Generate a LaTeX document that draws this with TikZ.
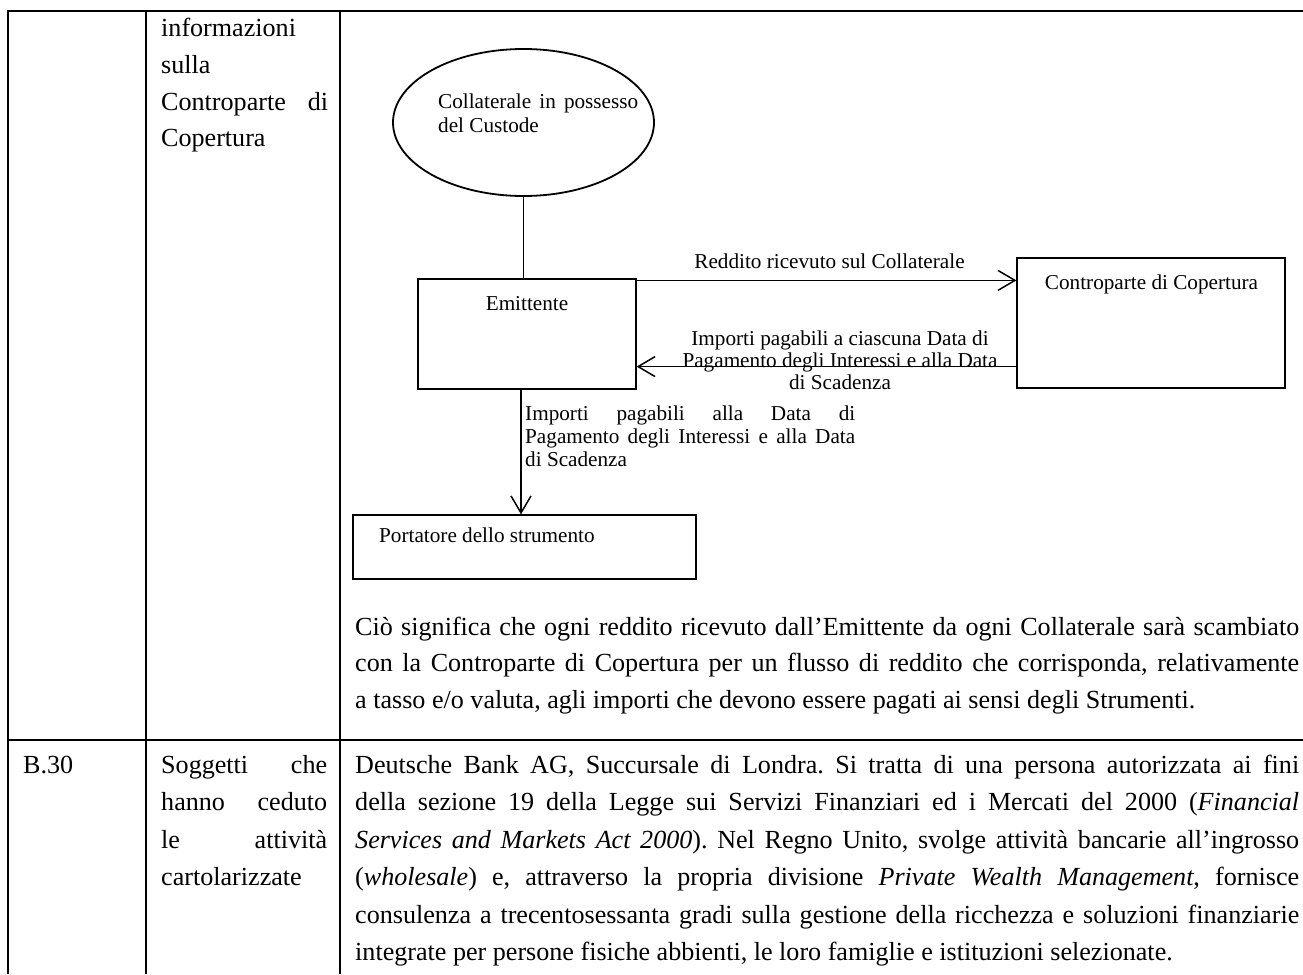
\documentclass[tikz,border=0pt]{standalone}
\usepackage{fontspec}
\setmainfont{Liberation Serif}
\usetikzlibrary{arrows.meta,shapes.geometric}
\newcommand{\jl}[2]{\makebox[#1][s]{#2}}
\frenchspacing
\begin{document}
\begin{tikzpicture}[x=1pt,y=-1pt,
  tab/.style={line width=2pt},
  body/.style={anchor=base west,inner sep=0pt,font=\fontsize{26.1}{37}\selectfont},
  dtxt/.style={inner sep=0pt,font=\fontsize{21.2}{23}\selectfont},
  box/.style={draw,line width=1.2pt,inner sep=0pt},
  conn/.style={line width=1.8pt},
  arr/.style={line width=1.7pt,-{Straight Barb[length=17pt,width=20pt,line width=1.5pt]}}]
\useasboundingbox (0,0) rectangle (1303,974);
% table grid
\draw[tab] (8.3,974) -- (8.3,11) -- (1303,11);
\draw[tab] (146,11) -- (146,974);
\draw[tab] (340,11) -- (340,974);
\draw[tab] (8.3,740) -- (1303,740);
% row 1, column 2
\node[body] (c2a) at (161,37) {informazioni};
\node[body] (c2b) at (161,73.5) {sulla};
\node[body] (c2c) at (161,110) {\jl{167pt}{Controparte di}};
\node[body] (c2d) at (161,146.5) {Copertura};
% diagram
\node[draw,ellipse,line width=1.8pt,minimum width=261pt,minimum height=147pt,inner sep=0pt] (coll) at (523.5,122.5) {};
\node[dtxt,anchor=base west] (collA) at (438,108) {\jl{200pt}{Collaterale in possesso}};
\node[dtxt,anchor=base west] (collB) at (438,132) {del Custode};
\node[box,minimum width=218pt,minimum height=110pt] (emit) at (527,334) {};
\node[dtxt,anchor=base] (emitT) at (527,310) {Emittente};
\node[box,minimum width=268pt,minimum height=130pt] (cp) at (1151,323) {};
\node[dtxt,anchor=base] (cpT) at (1151.5,289) {Controparte di Copertura};
\node[box,minimum width=343pt,minimum height=64pt] (port) at (524.5,547) {};
\node[dtxt,anchor=base west] (portT) at (379,542) {Portatore dello strumento};
\node[dtxt,anchor=base] (redd) at (829.5,268) {Reddito ricevuto sul Collaterale};
\node[dtxt,anchor=base] (impA) at (840,345) {Importi pagabili a ciascuna Data di};
\node[dtxt,anchor=base] (impB) at (840,367) {Pagamento degli Interessi e alla Data};
\node[dtxt,anchor=base] (impC) at (840,389) {di Scadenza};
\node[dtxt,anchor=base west] (dlA) at (525,420) {\jl{330pt}{Importi pagabili alla Data di}};
\node[dtxt,anchor=base west] (dlB) at (525,443) {\jl{330pt}{Pagamento degli Interessi e alla Data}};
\node[dtxt,anchor=base west] (dlC) at (525,466) {di Scadenza};
\draw[conn] (coll.south) -- (coll.south |- emit.north);
\coordinate (a1) at ([yshift=-2pt]emit.north east);
\draw[arr] (a1) -- (a1 -| cp.west);
\coordinate (a2) at ([yshift=22pt]cp.south west);
\draw[arr] (a2) -- (a2 -| emit.east);
\coordinate (a3) at ([xshift=-6pt]emit.south);
\draw[arr] (a3) -- (a3 |- port.north);
% row 1 paragraph
\node[body] (p1) at (355,635) {\jl{944pt}{Ciò significa che ogni reddito ricevuto dall’Emittente da ogni Collaterale sarà scambiato}};
\node[body] (p2) at (355,671.5) {\jl{944pt}{con la Controparte di Copertura per un flusso di reddito che corrisponda, relativamente}};
\node[body] (p3) at (355,708) {a tasso e/o valuta, agli importi che devono essere pagati ai sensi degli Strumenti.};
% row 2
\node[body] (b30) at (23,773) {B.30};
\node[body] (s1) at (161,773) {\jl{166pt}{Soggetti che}};
\node[body] (s2) at (161,810.5) {\jl{166pt}{hanno ceduto}};
\node[body] (s3) at (161,848) {\jl{166pt}{le attività}};
\node[body] (s4) at (161,885.5) {cartolarizzate};
\node[body] (d1) at (355,773) {\jl{944pt}{Deutsche Bank AG, Succursale di Londra. Si tratta di una persona autorizzata ai fini}};
\node[body] (d2) at (355,810.5) {\jl{944pt}{della sezione 19 della Legge sui Servizi Finanziari ed i Mercati del 2000 (\textit{Financial}}};
\node[body] (d3) at (355,848) {\jl{944pt}{\textit{Services and Markets Act 2000}). Nel Regno Unito, svolge attività bancarie all’ingrosso}};
\node[body] (d4) at (355,885.5) {\jl{944pt}{(\textit{wholesale}) e, attraverso la propria divisione \textit{Private Wealth Management}, fornisce}};
\node[body] (d5) at (355,923) {\jl{944pt}{consulenza a trecentosessanta gradi sulla gestione della ricchezza e soluzioni finanziarie}};
\node[body] (d6) at (355,960.5) {integrate per persone fisiche abbienti, le loro famiglie e istituzioni selezionate.};
\end{tikzpicture}
\end{document}
